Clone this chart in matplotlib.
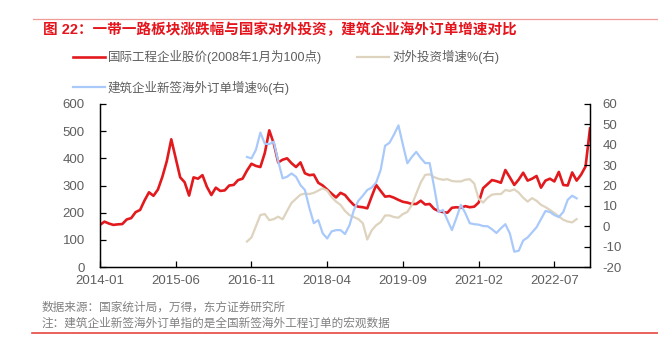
import matplotlib.pyplot as plt
from matplotlib.lines import Line2D

plt.rcParams['font.family'] = ['Liberation Sans', 'Noto Sans CJK SC']
plt.rcParams['axes.unicode_minus'] = False

# 月度序列：2014-01 起，共 111 个月
stock_price = [
    155, 167, 160, 155, 157, 158, 175, 180, 202, 210,
    245, 275, 262, 285, 332, 390, 470, 400, 330, 312,
    263, 330, 325, 338, 295, 265, 292, 280, 282, 300,
    302, 320, 325, 355, 380, 372, 368, 420, 503, 455,
    385, 395, 400, 382, 368, 385, 345, 338, 340, 310,
    300, 285, 270, 256, 273, 265, 245, 228, 222, 220,
    216, 260, 302, 280, 259, 261, 255, 247, 240, 237,
    232, 232, 244, 230, 232, 214, 206, 202, 200, 218,
    220, 218, 224, 220, 222, 237, 290, 305, 320, 316,
    310, 357, 330, 302, 322, 347, 318, 325, 335, 292,
    318, 325, 315, 350, 302, 300, 348, 318, 340, 370,
    510,
]
stock_x = list(range(len(stock_price)))

# 对外投资增速，2016-10 起
invest_growth = [
    -7.5, -5.5, 0, 5.5, 6.0, 3.0, 3.5,
    4.7, 3.4, 7.5, 11.5, 13.5, 15.5, 16, 15.8, 16.4, 17.5,
    18.6, 17.5, 14.3, 12.1, 10.5, 7.5, 5.5, 4.5, 3.5, 1.5,
    -6.5, -2, 0.5, 2.0, 5.3, 5.3, 4.5, 4.2, 6.0, 7.0,
    10.5, 16, 21.5, 25.2, 25.5, 24.1, 23.3, 22.8, 23.1, 22.2,
    22.0, 22.0, 22.8, 23.1, 21, 13.5, 11.6, 14.0, 15.5, 15.8,
    15.8, 17.8, 17.3, 18.1, 16.5, 14, 12.1, 13.8, 12.5, 10.5,
    9.4, 8.0, 6.5, 4.8, 3.2, 2.3, 1.9, 3.5,
]
invest_x = list(range(33, 33 + len(invest_growth)))

# 建筑企业新签海外订单增速，2016-10 起
order_growth = [
    34, 33.3, 37.5, 46, 40.5, 40.3, 41.5,
    32, 23.5, 24.3, 25.9, 24.3, 20.2, 17.8, 9, 1.5, 3,
    -3.5, -6, -2.5, -1.9, -1.9, -3.8, 0.5, 8, 12.5, 15,
    17.8, 19, 21.5, 27.6, 39.5, 41, 45, 49.5, 40, 30.9,
    34, 36.5, 33.5, 31, 31, 19.4, 7, 8, 3, -1.9,
    4, 10.5, 6.5, 1.5, 1.0, 0.8, 0.1, 0, -1.5, -3.3,
    -1, 1.0, -3.5, -12.5, -12, -7, -5.5, -3, -0.5, 3.5,
    7.5, 7, 5.5, 4.5, 7, 13, 15, 13.7,
]
order_x = list(range(33, 33 + len(order_growth)))

tick_pos = [0, 17, 34, 51, 68, 85, 102]
tick_labels = ['2014-01', '2015-06', '2016-11', '2018-04', '2019-09', '2021-02', '2022-07']

title = '图 22：一带一路板块涨跌幅与国家对外投资，建筑企业海外订单增速对比'
labels = ['国际工程企业股价(2008年1月为100点)', '对外投资增速%(右)', '建筑企业新签海外订单增速%(右)']
notes = ['数据来源：国家统计局，万得，东方证券研究所',
         '注：建筑企业新签海外订单指的是全国新签海外工程订单的宏观数据']

W, H = 658, 337
fig = plt.figure(figsize=(W / 100, H / 100), dpi=100)
ax = fig.add_axes([100 / W, 1 - 267 / H, 490 / W, 163 / H])

l1, = ax.plot(stock_x, stock_price, color='#e2191d', lw=1.9)
ax.set_xlim(0, 110)
ax.set_ylim(0, 600)
ax.set_yticks(range(0, 601, 100))
ax.set_xticks(tick_pos)
ax.set_xticklabels(tick_labels)

ax2 = ax.twinx()
l2, = ax2.plot(invest_x, invest_growth, color='#ddd3be', lw=1.6)
l3, = ax2.plot(order_x, order_growth, color='#a9c9fb', lw=1.6)
ax2.set_ylim(-20, 60)
ax2.set_yticks(range(-20, 61, 10))

for a in (ax, ax2):
    a.spines['top'].set_visible(False)
    for s in a.spines.values():
        s.set_linewidth(0.9)
    a.tick_params(direction='in', length=4, width=0.9, labelsize=9.5,
                  labelcolor='#5f5f5f')
ax.tick_params(axis='y', pad=11)
ax.tick_params(axis='x', pad=5.5)
ax2.tick_params(axis='y', pad=9)

fig.legend([l1, l3, l2], [labels[0], labels[2], labels[1]], ncol=2,
           loc='upper left', bbox_to_anchor=(73 / W, 1 - 50 / H),
           frameon=False, fontsize=9, labelcolor='#5f5f5f',
           handlelength=2.55, handletextpad=0.25, columnspacing=2.8,
           labelspacing=1.3, borderpad=0, borderaxespad=0)

fig.text(43 / W, 1 - 30 / H, title, color='#e5141c', fontsize=10.5,
         fontweight='bold', va='center')
fig.text(42 / W, 1 - 308 / H, notes[0], color='#808080', fontsize=8.4, va='center')
fig.text(42 / W, 1 - 324 / H, notes[1], color='#808080', fontsize=8.4, va='center')

fig.add_artist(Line2D([33 / W, 1], [1 - 19 / H] * 2, color='#f09c96', lw=0.9))
fig.add_artist(Line2D([32 / W, 1], [1 - 333 / H] * 2, color='#e8473f', lw=1.2))

fig.savefig('out.png', dpi=100)
